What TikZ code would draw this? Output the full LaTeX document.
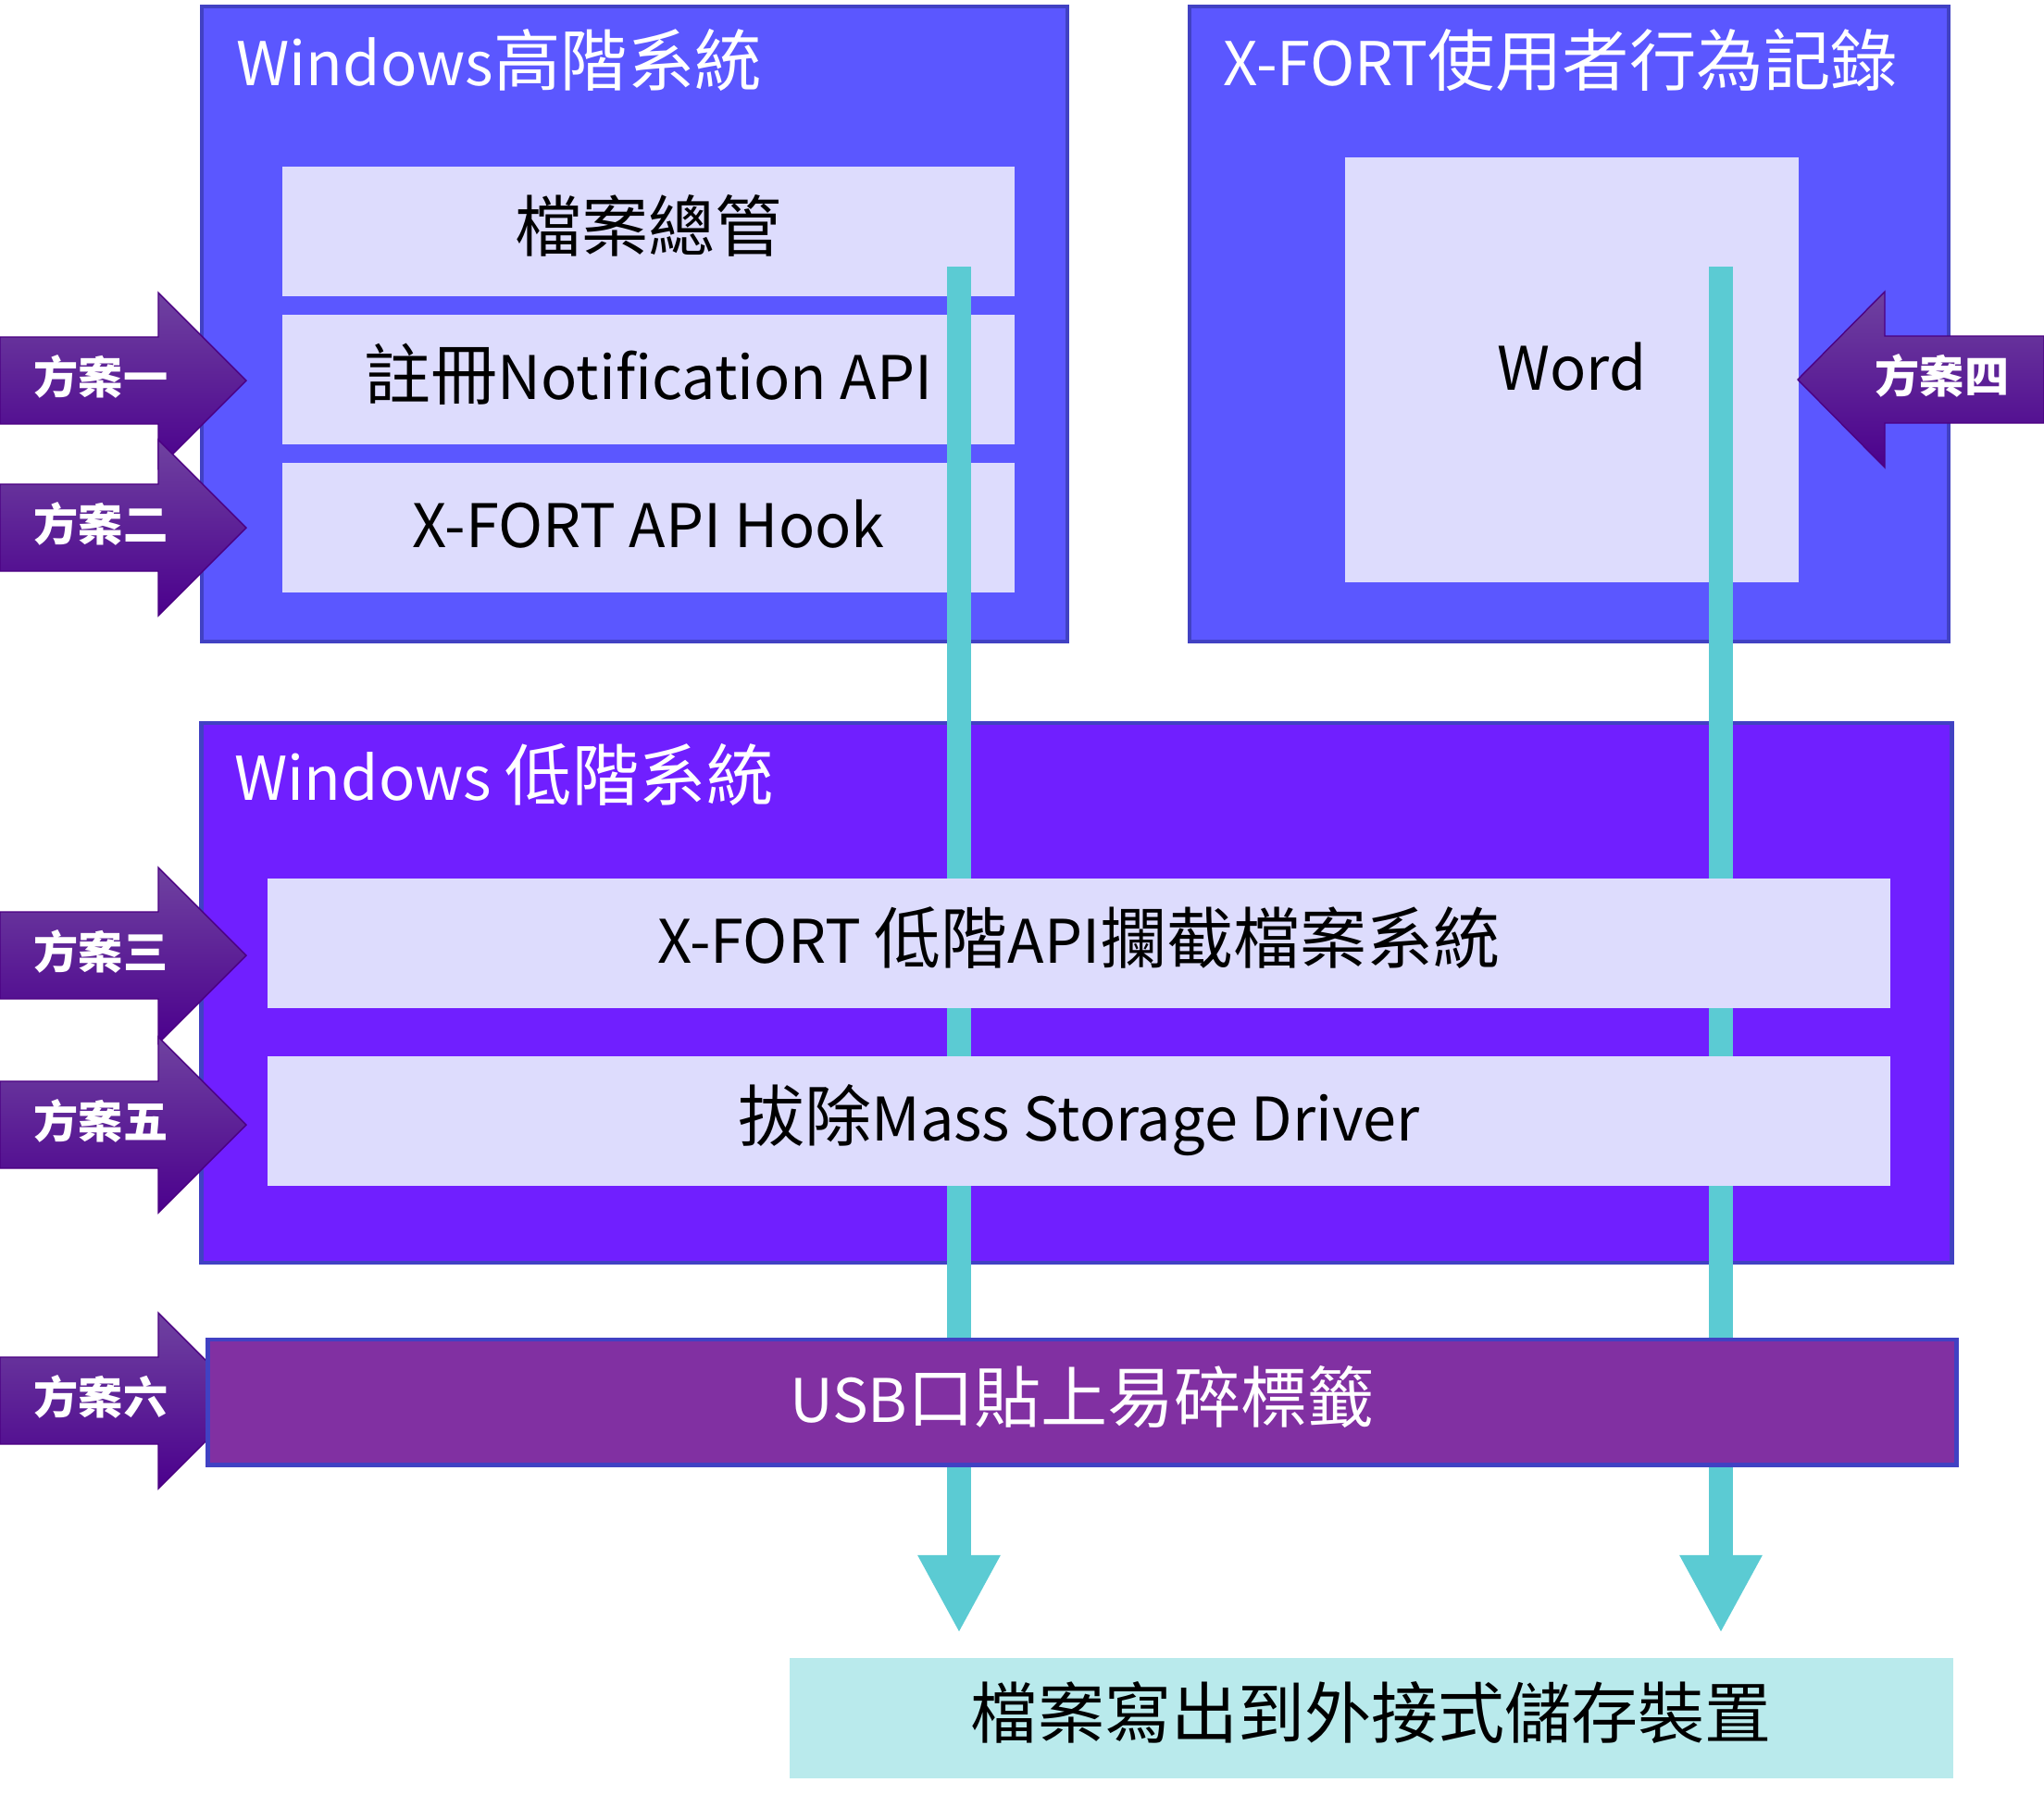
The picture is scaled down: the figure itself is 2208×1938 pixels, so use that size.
\documentclass[tikz,border=0pt]{standalone}
\usepackage{fontspec}
\setmainfont{Noto Sans CJK TC}
\newfontfamily\lat[Scale=0.9]{Noto Sans CJK TC}
\usetikzlibrary{arrows.meta}
\usetikzlibrary{calc,positioning}

\definecolor{hibox}{HTML}{5B57FF}
\definecolor{boxedge}{HTML}{4141C3}
\definecolor{inbox}{HTML}{DDDCFD}
\definecolor{lobox}{HTML}{701FFF}
\definecolor{usbbox}{HTML}{8130A2}
\definecolor{flow}{HTML}{5BCBD3}
\definecolor{outbox}{HTML}{B9EAEC}
\definecolor{plantop}{HTML}{6F42A0}
\definecolor{planbot}{HTML}{4B008D}
\definecolor{planedge}{HTML}{4B0082}

\tikzset{
  layer/.style={draw=boxedge, line width=1.2pt, inner sep=0pt},
  inner/.style={fill=inbox, inner sep=0pt, text height=0.64cm, text depth=0.21cm,
                font=\fontsize{20.5}{24}\selectfont},
  title/.style={text=white, inner sep=0pt, font=\fontsize{20.6}{24}\selectfont},
  plan/.style={text=white, inner sep=0pt, font=\fontsize{13.7}{16}\selectfont\bfseries},
  flowline/.style={draw=flow, line width=0.26cm, -{Triangle[width=0.83cm,length=0.84cm]}},
}

\begin{document}
\begin{tikzpicture}[x=0.01cm, y=-0.01cm]

    \useasboundingbox (0,0) rectangle (2208,1938);

    % upper layer
    \node[layer, fill=hibox, minimum width=9.35cm, minimum height=6.86cm] (hi) at (685.5,350) {};
    \node[title, anchor=base west] (hiT) at (255,92) {{\lat Windows}高階系統};
    \node[layer, fill=hibox, minimum width=8.20cm, minimum height=6.86cm] (rec) at (1695,350) {};
    \node[title, anchor=base west] (recT) at (1321,92) {{\lat X-FORT}使用者行為記錄};

    \node[inner, minimum width=7.91cm, minimum height=1.40cm] (fm) at (700.5,250) {檔案總管};
    \node[inner, minimum width=7.91cm, minimum height=1.40cm] (reg) at (700.5,410) {註冊{\lat Notification API}};
    \node[inner, minimum width=7.91cm, minimum height=1.40cm] (hook) at (700.5,570) {{\lat X-FORT API Hook}};
    \node[inner, minimum width=4.90cm, minimum height=4.59cm] (word) at (1698,399.5) {{\lat Word}};

    % lower layer
    \node[layer, fill=lobox, minimum width=18.90cm, minimum height=5.83cm] (lo) at (1163,1072.5) {};
    \node[title, anchor=base west] (loT) at (253,864) {{\lat Windows }低階系統};

    % write path
    \coordinate (src1) at (1036,288);
    \coordinate (dst1) at (1036,1764);
    \coordinate (src2) at (1859,288);
    \coordinate (dst2) at (1859,1764);
    \draw[flowline] (src1) -- (dst1);
    \draw[flowline] (src2) -- (dst2);

    \node[inner, minimum width=17.51cm, minimum height=1.40cm] (api) at (1165.5,1019) {{\lat X-FORT }低階{\lat API}攔截檔案系統};
    \node[inner, minimum width=17.51cm, minimum height=1.40cm] (drv) at (1165.5,1211) {拔除{\lat Mass Storage Driver}};

    % plans
    \foreach \y/\lab/\n in {411/一/1, 570/二/2, 1032/三/3, 1215/五/5, 1513/六/6}{
      \shade[top color=plantop, bottom color=planbot, draw=planedge, line width=0.4pt]
        (0,\y-47) -- (171,\y-47) -- (171,\y-95) -- (266,\y) -- (171,\y+95) -- (171,\y+47) -- (0,\y+47) -- cycle;
      \node[plan] (plan\n) at (109,\y-4) {方案\lab};
    }
    \shade[top color=plantop, bottom color=planbot, draw=planedge, line width=0.4pt]
      (2208,363) -- (2036,363) -- (2036,315) -- (1942,410) -- (2036,505) -- (2036,457) -- (2208,457) -- cycle;
    \node[plan] (plan4) at (2098,406) {方案四};

    \node[layer, fill=usbbox, line width=1.4pt, minimum width=18.88cm, minimum height=1.35cm,
          text height=0.64cm, text depth=0.21cm,
          text=white, font=\fontsize{20.5}{24}\selectfont] (usb) at (1169,1514.5) {{\lat USB}口貼上易碎標籤};

    \node[inner, fill=outbox, minimum width=12.57cm, minimum height=1.30cm] (out) at (1481.5,1856) {檔案寫出到外接式儲存裝置};

\end{tikzpicture}
\end{document}
